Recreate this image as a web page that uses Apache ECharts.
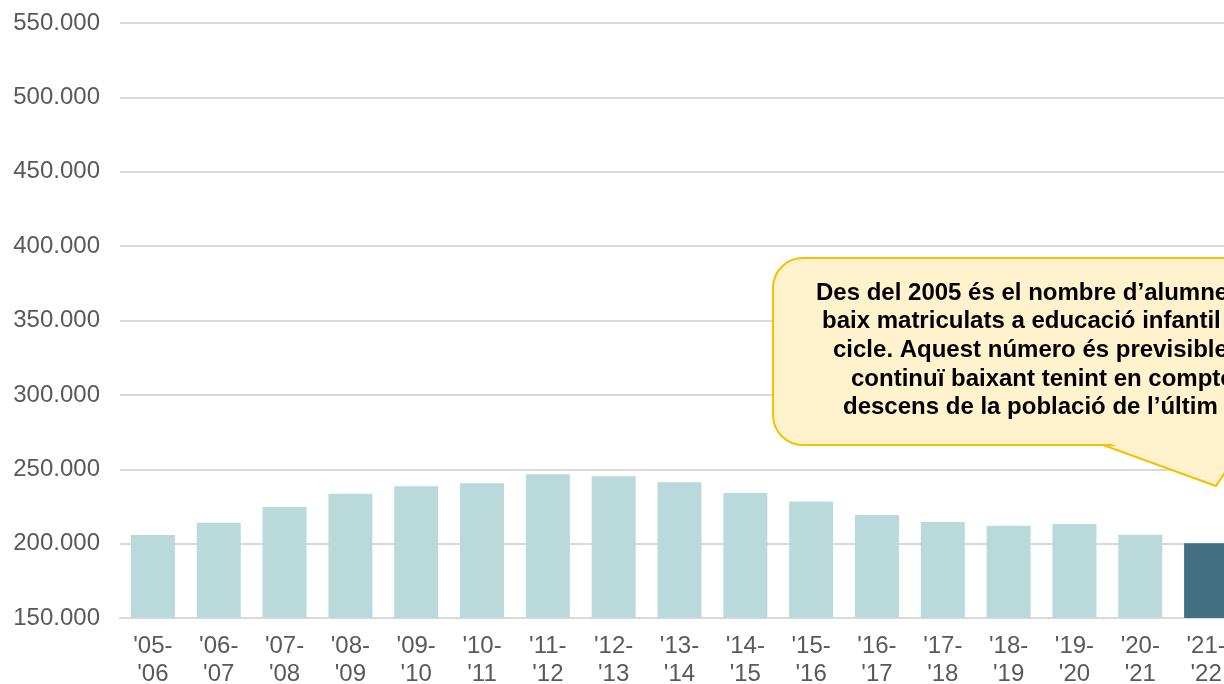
<!DOCTYPE html>
<html>
<head>
<meta charset="utf-8">
<script src="https://cdn.jsdelivr.net/npm/echarts@6/dist/echarts.min.js"></script>
<style>
  html, body { margin: 0; padding: 0; background: #fff; }
  #chart { width: 1224px; height: 684px; }
</style>
</head>
<body>
<div id="chart"></div>
<script>
// cursos escolars
const categories = [
    "'05-\n'06", "'06-\n'07", "'07-\n'08", "'08-\n'09", "'09-\n'10", "'10-\n'11",
    "'11-\n'12", "'12-\n'13", "'13-\n'14", "'14-\n'15", "'15-\n'16", "'16-\n'17",
    "'17-\n'18", "'18-\n'19", "'19-\n'20", "'20-\n'21", "'21-\n'22"
];
// alumnes matriculats (estimats del gràfic)
const alumnes = [
    205800, 214100, 224700, 233600, 238500, 240600,
    246600, 245300, 241300, 234000, 228400, 219300,
    214600, 212000, 213200, 205900, 200300
];
const yTicks = { min: 150000, max: 550000, interval: 50000 };
const calloutLines = [
    'Des del 2005 és el nombre d\u2019alumnes més',
    'baix matriculats a educació infantil de 1r',
    'cicle. Aquest número és previsible que',
    'continuï baixant tenint en compte el',
    'descens de la població de l\u2019últim any'
];

const lightColor = '#BAD9DB';
const darkColor = '#426F82';
const font = '"Liberation Sans", Arial, sans-serif';
const balloonFill = '#FFF2CC';
const balloonStroke = '#F5C000';

const seriesData = alumnes.map((v, i) => ({
    value: v,
    itemStyle: { color: i === alumnes.length - 1 ? darkColor : lightColor }
}));

// globus de text: cua + caixa arrodonida + pegat per tapar la costura
const lineStarts = [816, 822, 833, 851, 843];
const textElements = calloutLines.map((t, i) => ({
    type: 'text',
    x: lineStarts[i],
    y: 293 + i * 28.7,
    z: 110,
    style: {
        text: t,
        fill: '#000',
        font: `bold 24px ${font}`,
        verticalAlign: 'middle'
    }
}));

const balloon = [
    {
        type: 'polygon',
        z: 100,
        shape: { points: [[1103, 445], [1216, 486], [1243, 445]] },
        style: { fill: balloonFill, stroke: balloonStroke, lineWidth: 2 }
    },
    {
        type: 'rect',
        z: 101,
        shape: { x: 773, y: 258, width: 600, height: 187, r: 30 },
        style: { fill: balloonFill, stroke: balloonStroke, lineWidth: 2 }
    },
    {
        type: 'polygon',
        z: 102,
        shape: { points: [[1108, 443], [1238, 443], [1216, 482]] },
        style: { fill: balloonFill }
    }
];

const chart = echarts.init(document.getElementById('chart'));
chart.setOption({
    animation: false,
    backgroundColor: '#fff',
    grid: {
        left: 120, top: 23, height: 595, width: 1119,
        containLabel: false,
        outerBoundsMode: 'none'
    },
    xAxis: {
        type: 'category',
        data: categories,
        axisLine: { show: true, lineStyle: { color: '#D9D9D9', width: 2 } },
        axisTick: { show: false },
        axisLabel: {
            color: '#595959',
            fontFamily: font,
            fontSize: 24,
            lineHeight: 28,
            margin: 14,
            interval: 0
        }
    },
    yAxis: {
        type: 'value',
        min: yTicks.min,
        max: yTicks.max,
        interval: yTicks.interval,
        axisLine: { show: false },
        axisTick: { show: false },
        splitLine: { lineStyle: { color: '#D9D9D9', width: 2 } },
        axisLabel: {
            color: '#595959',
            fontFamily: font,
            fontSize: 24,
            margin: 20,
            formatter: v => v.toLocaleString('de-DE')
        }
    },
    series: [{
        type: 'bar',
        data: seriesData,
        barWidth: 44
    }],
    graphic: [...balloon, ...textElements]
});
</script>
</body>
</html>
